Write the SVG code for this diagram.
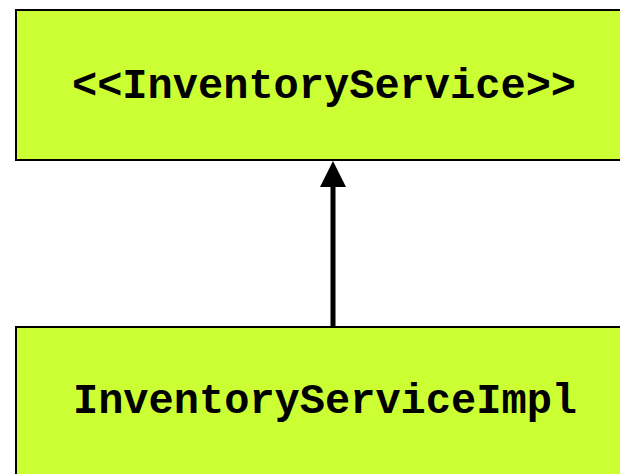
<svg xmlns="http://www.w3.org/2000/svg" width="620" height="474" viewBox="0 0 620 474">
<style>
.box{fill:#CCFF33;stroke:#000;stroke-width:2}
.lbl{font-family:"Liberation Mono","Courier New",monospace;font-weight:bold;font-size:42px;fill:#000;text-anchor:middle}
.conn{stroke:#000;stroke-width:5;fill:none}
</style>
<rect width="620" height="474" fill="#fff"/>
<g id="inventory-service">
<rect class="box" x="16" y="10" width="640" height="150"/>
<text class="lbl" x="324" y="98">&lt;&lt;InventoryService&gt;&gt;</text>
</g>
<g id="inventory-service-impl">
<rect class="box" x="16" y="327" width="640" height="170"/>
<text class="lbl" x="325" y="413">InventoryServiceImpl</text>
</g>
<g id="connectors">
<line class="conn" x1="333" y1="327" x2="333" y2="184"/>
<polygon points="333,161 320,187 346,187" fill="#000"/>
</g>
</svg>
